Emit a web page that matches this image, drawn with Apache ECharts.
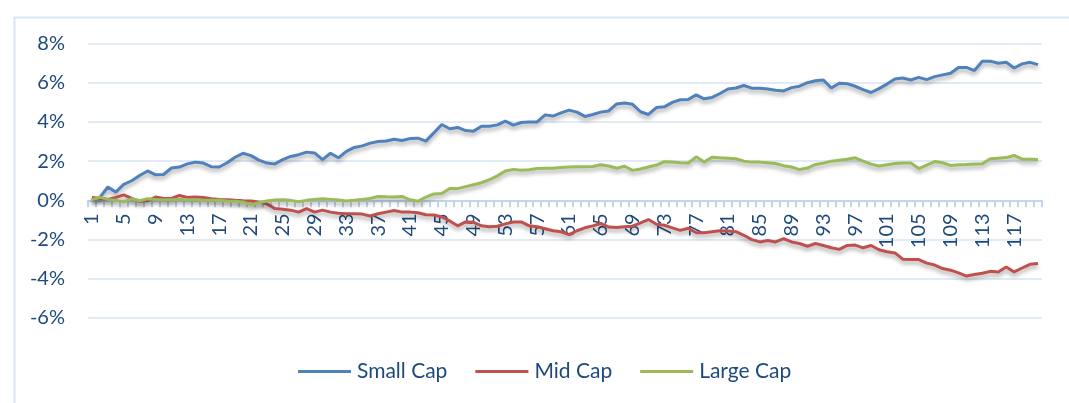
<!DOCTYPE html>
<html>
<head>
<meta charset="utf-8">
<script src="https://cdn.jsdelivr.net/npm/echarts@6/dist/echarts.min.js"></script>
<style>
  html, body { margin: 0; padding: 0; background: #fff; }
  #chart { width: 1069px; height: 403px; }
</style>
</head>
<body>
<div id="chart"></div>
<script>
// categories 1..120 (written out)
const categories = [
  "1","2","3","4","5","6","7","8","9","10","11","12","13","14","15","16","17","18","19","20",
  "21","22","23","24","25","26","27","28","29","30","31","32","33","34","35","36","37","38","39","40",
  "41","42","43","44","45","46","47","48","49","50","51","52","53","54","55","56","57","58","59","60",
  "61","62","63","64","65","66","67","68","69","70","71","72","73","74","75","76","77","78","79","80",
  "81","82","83","84","85","86","87","88","89","90","91","92","93","94","95","96","97","98","99","100",
  "101","102","103","104","105","106","107","108","109","110","111","112","113","114","115","116","117","118","119","120"
];

// values in %
const smallCap = [
  0.0, 0.15, 0.68, 0.42, 0.82, 1.0, 1.27, 1.5, 1.3, 1.32,
  1.65, 1.7, 1.86, 1.95, 1.9, 1.72, 1.7, 1.92, 2.2, 2.4,
  2.28, 2.05, 1.9, 1.86, 2.08, 2.24, 2.33, 2.46, 2.42, 2.08,
  2.4, 2.17, 2.5, 2.7, 2.78, 2.92, 3.0, 3.03, 3.12, 3.05,
  3.15, 3.17, 3.02, 3.44, 3.87, 3.65, 3.72, 3.56, 3.53, 3.78,
  3.78, 3.85, 4.04, 3.84, 3.97, 4.0, 4.0, 4.36, 4.3, 4.46,
  4.6, 4.5, 4.28, 4.38, 4.5, 4.56, 4.92, 4.96, 4.9, 4.52,
  4.38, 4.73, 4.77, 5.0, 5.13, 5.14, 5.38, 5.18, 5.25, 5.45,
  5.68, 5.73, 5.86, 5.72, 5.72, 5.68, 5.62, 5.58, 5.75, 5.82,
  6.0, 6.1, 6.14, 5.73, 5.97, 5.95, 5.82, 5.65, 5.5, 5.7,
  5.93, 6.19, 6.24, 6.14, 6.27, 6.16, 6.31, 6.4, 6.48, 6.78,
  6.78, 6.62, 7.09, 7.1, 6.99, 7.04, 6.75, 6.96, 7.04, 6.92
];

const midCap = [
  0.14, 0.1, 0.05, 0.15, 0.28, 0.1, -0.05, -0.02, 0.17, 0.1,
  0.1, 0.25, 0.15, 0.17, 0.15, 0.08, 0.05, 0.03, 0.0, -0.02,
  -0.03, -0.1, -0.18, -0.42, -0.45, -0.5, -0.6, -0.42, -0.6, -0.5,
  -0.6, -0.66, -0.68, -0.68, -0.7, -0.8, -0.68, -0.6, -0.52, -0.6,
  -0.6, -0.63, -0.73, -0.75, -0.85, -1.05, -1.3, -1.1, -1.12, -1.3,
  -1.35, -1.32, -1.2, -1.1, -1.1, -1.3, -1.35, -1.45, -1.55, -1.6,
  -1.75, -1.55, -1.4, -1.3, -1.18, -1.36, -1.38, -1.35, -1.32, -1.15,
  -0.98, -1.22, -1.27, -1.4, -1.53, -1.42, -1.65, -1.65, -1.6, -1.55,
  -1.56, -1.6, -1.78, -2.0, -2.12, -2.05, -2.12, -1.95, -2.12, -2.2,
  -2.34, -2.2, -2.3, -2.42, -2.5, -2.3, -2.28, -2.42, -2.3, -2.52,
  -2.62, -2.68, -3.0, -3.02, -3.02, -3.2, -3.3, -3.48, -3.56, -3.7,
  -3.86, -3.78, -3.72, -3.62, -3.65, -3.4, -3.65, -3.45, -3.26, -3.22
];

const largeCap = [
  0.03, 0.15, 0.05, 0.0, -0.08, 0.08, -0.02, 0.08, 0.05, 0.03,
  0.03, 0.05, 0.03, 0.03, 0.0, 0.0, 0.0, -0.03, -0.05, -0.08,
  -0.22, -0.12, -0.03, 0.02, 0.03, 0.0, -0.07, 0.0, 0.05, 0.08,
  0.05, 0.02, -0.03, 0.0, 0.05, 0.1, 0.2, 0.18, 0.17, 0.2,
  0.03, -0.05, 0.17, 0.33, 0.35, 0.6, 0.6, 0.7, 0.8, 0.9,
  1.05, 1.25, 1.5, 1.58, 1.53, 1.56, 1.62, 1.64, 1.64, 1.68,
  1.7, 1.72, 1.72, 1.73, 1.82, 1.75, 1.64, 1.74, 1.53, 1.6,
  1.7, 1.8, 1.97, 1.96, 1.92, 1.9, 2.22, 1.95, 2.2, 2.17,
  2.15, 2.12, 2.0, 1.95, 1.95, 1.92, 1.88, 1.77, 1.7, 1.57,
  1.65, 1.83, 1.9, 2.0, 2.05, 2.1, 2.17, 2.0, 1.85, 1.75,
  1.82, 1.88, 1.9, 1.9, 1.62, 1.8, 1.98, 1.92, 1.78, 1.82,
  1.83, 1.85, 1.87, 2.12, 2.15, 2.18, 2.29, 2.1, 2.1, 2.09
];

const yTicks = { min: -6, max: 8, step: 2 };

const textColor = "#1F497D";
const font = "Lato, 'Open Sans', sans-serif";

// plot box
const gridTop = 43.5;
const gridBottom = 85;
const plotH = 403 - gridTop - gridBottom;
// move the category axis up to the 0% line, labels included
const zeroOffset = -plotH * (0 - yTicks.min) / (yTicks.max - yTicks.min);

function lineSeries(name, data, color) {
  return {
    name: name,
    type: "line",
    data: data,
    symbol: "none",
    lineStyle: {
      color: color,
      width: 3,
      shadowColor: "rgba(0,0,0,0.35)",
      shadowBlur: 4,
      shadowOffsetY: 3,
    },
    itemStyle: { color: color },
  };
}

const options = {
  animation: false,
  textStyle: { fontFamily: font },
  graphic: [
    {
      type: "rect",
      left: 12,
      top: 15,
      shape: { width: 1100, height: 420 },
      style: { fill: "none", stroke: "#dbe5f1", lineWidth: 2 },
      silent: true,
    },
  ],
  grid: {
    left: 88,
    right: 27,
    top: gridTop,
    bottom: gridBottom,
  },
  legend: {
    left: 293,
    top: 356,
    icon: "rect",
    itemWidth: 53,
    itemHeight: 3,
    itemGap: 28,
    data: ["Small Cap", "Mid Cap", "Large Cap"],
    textStyle: { color: textColor, fontSize: 21, fontFamily: font, padding: [0, 0, 0, 1] },
  },
  xAxis: {
    type: "category",
    data: categories,
    boundaryGap: true,
    offset: zeroOffset,
    axisLine: { onZero: false, lineStyle: { color: "#c3d5ec", width: 2 } },
    axisTick: {
      show: true,
      interval: 0,
      length: 7,
      lineStyle: { color: "#c3d5ec", width: 2 },
    },
    axisLabel: {
      interval: 3,
      rotate: 90,
      margin: 13,
      color: textColor,
      fontSize: 20,
      fontFamily: font,
    },
  },
  yAxis: {
    type: "value",
    min: yTicks.min,
    max: yTicks.max,
    interval: yTicks.step,
    axisLine: { show: false },
    axisTick: { show: false },
    splitLine: { lineStyle: { color: "#d9e4f2", width: 1.5 } },
    axisLabel: {
      formatter: "{value}%",
      color: textColor,
      fontSize: 20,
      margin: 23,
      fontFamily: font,
    },
  },
  series: [
    lineSeries("Small Cap", smallCap, "#4F81BD"),
    lineSeries("Mid Cap", midCap, "#C0504D"),
    lineSeries("Large Cap", largeCap, "#9BBB59"),
  ],
};

const chart = echarts.init(document.getElementById("chart"));
chart.setOption(options);
</script>
</body>
</html>
